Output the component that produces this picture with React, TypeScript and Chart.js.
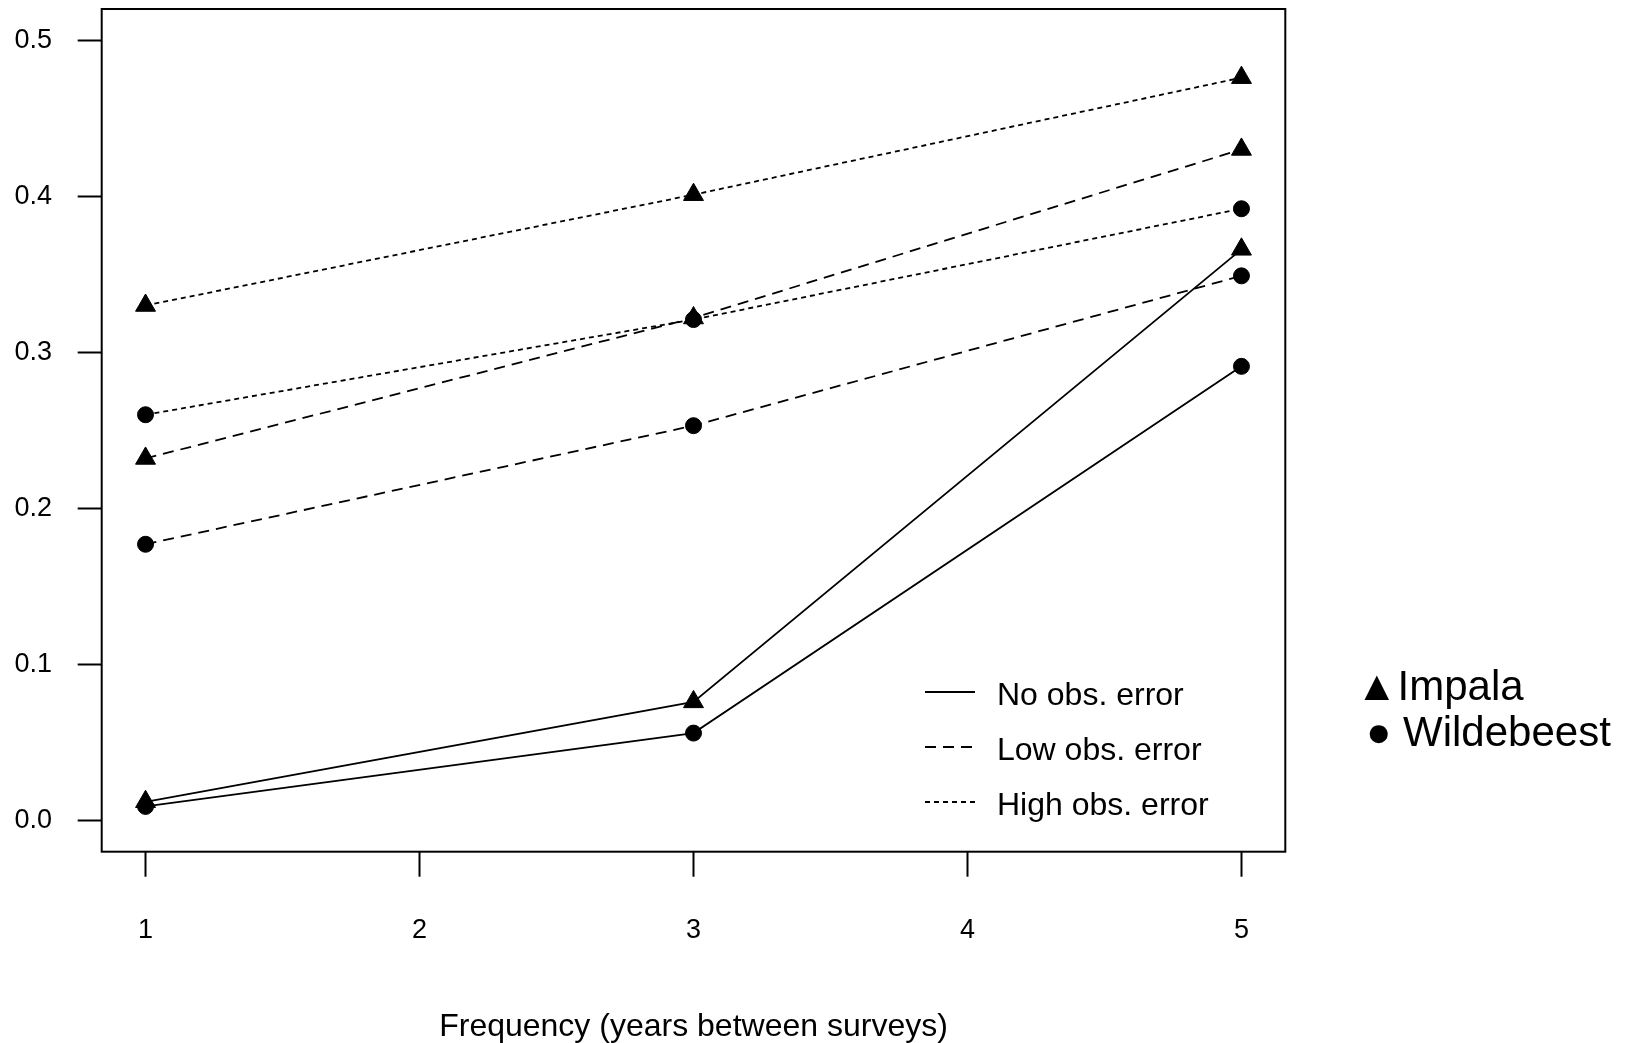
import { useEffect, useRef } from "react";
import { Chart, registerables } from "chart.js";

Chart.register(...registerables);

// ---- data ----
const surveyYears = [1, 3, 5];
const impalaNoError = [0.012, 0.076, 0.366];
const wildebeestNoError = [0.009, 0.056, 0.291];
const impalaLowError = [0.232, 0.322, 0.43];
const wildebeestLowError = [0.177, 0.253, 0.349];
const impalaHighError = [0.33, 0.401, 0.476];
const wildebeestHighError = [0.26, 0.321, 0.392];

const xTickValues = [1, 2, 3, 4, 5];
const yTickValues = [0, 0.1, 0.2, 0.3, 0.4, 0.5];
const errorLevels = ["No obs. error", "Low obs. error", "High obs. error"];
const speciesLabels = ["Impala", "Wildebeest"];
const xAxisTitle = "Frequency (years between surveys)";

// ---- styles ----
const FONT = '"Liberation Sans", Arial, sans-serif';
const dashStyles: number[][] = [[], [11, 7], [5, 4]];
const W = 1636;
const H = 1043;

const toPoints = (vals: number[]) => vals.map((v, i) => ({ x: surveyYears[i], y: v }));

function makeSet(label: string, vals: number[], level: number, species: number) {
  return {
    label,
    data: toPoints(vals),
    borderColor: "#000",
    backgroundColor: "#000",
    borderWidth: 1.8,
    borderDash: dashStyles[level],
    tension: 0,
    fill: false,
    pointStyle: species === 0 ? "triangle" : "circle",
    pointRadius: species === 0 ? 11.5 : 8,
    pointBackgroundColor: "#000",
    pointBorderColor: "#000",
    pointBorderWidth: 1,
  };
}

const decorPlugin = {
  id: "decor",
  afterDraw(chart: any) {
    const { ctx, chartArea } = chart;
    const a = chartArea;
    ctx.save();
    // box
    ctx.strokeStyle = "#000";
    ctx.lineWidth = 2;
    ctx.setLineDash([]);
    ctx.strokeRect(a.left, a.top, a.right - a.left, a.bottom - a.top);

    // inner legend
    const legX1 = 925;
    const legX2 = 975;
    const legTextX = 997;
    const legY0 = 692;
    const legStep = 55;
    ctx.font = `32px ${FONT}`;
    ctx.fillStyle = "#000";
    ctx.textBaseline = "middle";
    ctx.textAlign = "left";
    errorLevels.forEach((lab, i) => {
      const y = legY0 + i * legStep;
      ctx.beginPath();
      ctx.setLineDash(dashStyles[i]);
      ctx.lineWidth = 1.8;
      ctx.moveTo(legX1, y);
      ctx.lineTo(legX2, y);
      ctx.stroke();
      ctx.fillText(lab, legTextX, y + 4);
    });

    // species legend (outside plot)
    ctx.setLineDash([]);
    ctx.font = `42px ${FONT}`;
    ctx.textBaseline = "alphabetic";
    ctx.fillText("\u25B2" + speciesLabels[0], 1356, 700);
    ctx.fillText("\u25CF " + speciesLabels[1], 1366, 746);
    ctx.restore();
  },
};

export default function App() {
  const ref = useRef<HTMLCanvasElement | null>(null);

  useEffect(() => {
    if (!ref.current) return;
    const chart = new Chart(ref.current, {
      type: "line",
      data: {
        datasets: [
          makeSet("Impala – " + errorLevels[0], impalaNoError, 0, 0),
          makeSet("Wildebeest – " + errorLevels[0], wildebeestNoError, 0, 1),
          makeSet("Impala – " + errorLevels[1], impalaLowError, 1, 0),
          makeSet("Wildebeest – " + errorLevels[1], wildebeestLowError, 1, 1),
          makeSet("Impala – " + errorLevels[2], impalaHighError, 2, 0),
          makeSet("Wildebeest – " + errorLevels[2], wildebeestHighError, 2, 1),
        ] as any,
      },
      options: {
        animation: false,
        responsive: false,
        devicePixelRatio: 1,
        layout: { autoPadding: false, padding: { top: 9, right: 350.7, bottom: 0, left: 0 } },
        plugins: {
          legend: { display: false },
          tooltip: { enabled: false },
          title: { display: false },
        },
        scales: {
          x: {
            type: "linear",
            min: 0.84,
            max: 5.16,
            afterBuildTicks: (s: any) => {
              s.ticks = xTickValues.map((v) => ({ value: v }));
            },
            afterFit: (s: any) => {
              s.height = 191.3;
              s.paddingLeft = 0;
              s.paddingRight = 0;
            },
            border: { display: false },
            grid: {
              drawOnChartArea: false,
              drawTicks: true,
              tickLength: 25,
              tickWidth: 2,
              tickColor: "#000",
              color: "#000",
            },
            ticks: {
              color: "#000",
              font: { family: FONT, size: 27 },
              padding: 38,
              maxRotation: 0,
              autoSkip: false,
              callback: (v: any) => String(v),
            },
            title: {
              display: true,
              text: xAxisTitle,
              color: "#000",
              font: { family: FONT, size: 32, lineHeight: 1 },
              padding: { top: 0, bottom: 0 },
            },
          },
          y: {
            type: "linear",
            min: -0.02,
            max: 0.52,
            afterBuildTicks: (s: any) => {
              s.ticks = yTickValues.map((v) => ({ value: v }));
            },
            afterFit: (s: any) => {
              s.width = 101.7;
              s.paddingTop = 0;
              s.paddingBottom = 0;
            },
            border: { display: false },
            grid: {
              drawOnChartArea: false,
              drawTicks: true,
              tickLength: 24,
              tickWidth: 2,
              tickColor: "#000",
              color: "#000",
            },
            ticks: {
              color: "#000",
              font: { family: FONT, size: 27 },
              padding: 25.7,
              autoSkip: false,
              callback: (v: any) => Number(v).toFixed(1),
            },
          },
        },
      } as any,
      plugins: [decorPlugin],
    });
    return () => chart.destroy();
  }, []);

  return (
    <div style={{ position: "absolute", left: 0, top: 0, width: W, height: H, background: "#fff" }}>
      <canvas ref={ref} width={W} height={H} style={{ width: W, height: H, display: "block" }} />
    </div>
  );
}
